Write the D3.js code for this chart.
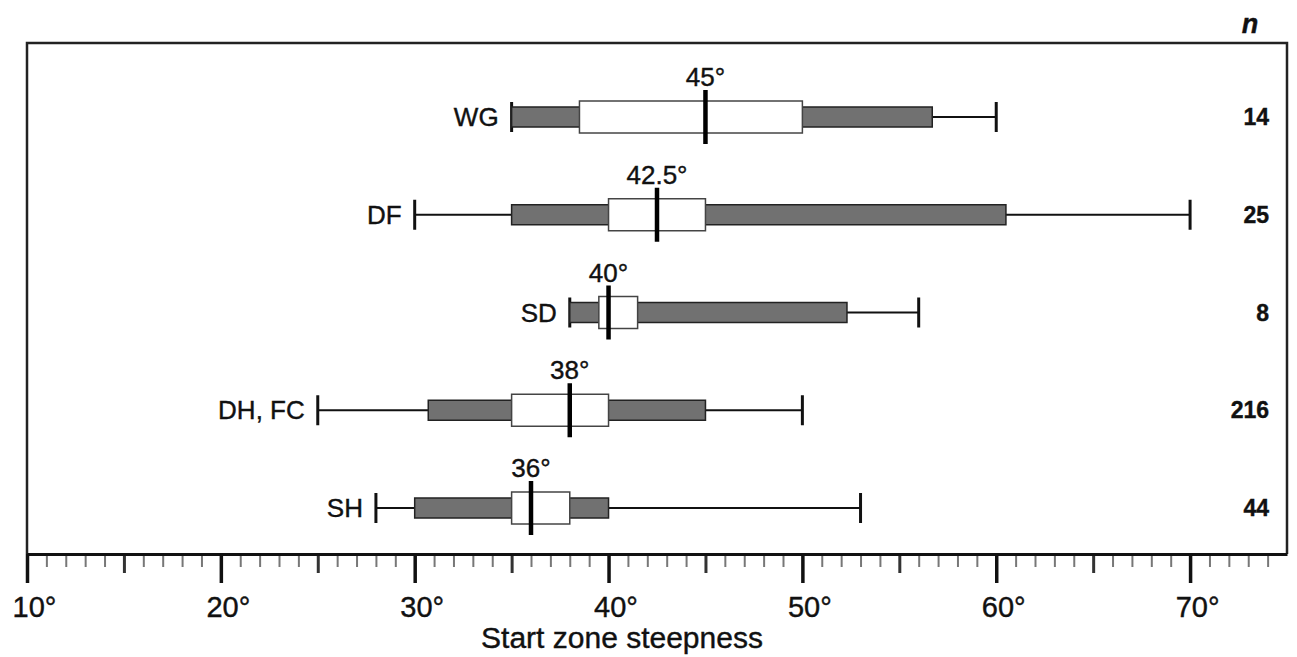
<!DOCTYPE html>
<html>
<head>
<meta charset="utf-8">
<script src="https://cdn.jsdelivr.net/npm/d3@7.9.0/dist/d3.min.js"></script>
<style>
  html, body { margin: 0; padding: 0; background: #fff; }
  svg { display: block; font-family: "Liberation Sans", Arial, Helvetica, sans-serif; }
  svg text { stroke: #111; stroke-width: 0.4px; }
</style>
</head>
<body>
<svg id="chart" width="1297" height="657"></svg>
<script>
// avalanche start zone categories, top to bottom
const categories = ["WG", "DF", "SD", "DH, FC", "SH"];
const whiskerLow = [35, 30, 38, 25, 28];
const outerLow = [35, 35, 38, 30.7, 30];
const innerLow = [38.5, 40, 39.5, 35, 35];
const medians = [45, 42.5, 40, 38, 36];
const innerHigh = [50, 45, 41.5, 40, 38];
const outerHigh = [56.7, 60.5, 52.3, 45, 40];
const whiskerHigh = [60, 70, 56, 50, 53];
const medianLabels = ["45°", "42.5°", "40°", "38°", "36°"];
const sampleSizes = ["14", "25", "8", "216", "44"];
const majorTicks = [10, 20, 30, 40, 50, 60, 70];
const majorTickLabels = ["10°", "20°", "30°", "40°", "50°", "60°", "70°"];
const xTitle = "Start zone steepness";

const rows = categories.map((c, i) => ({
  cat: c, wlo: whiskerLow[i], olo: outerLow[i], ilo: innerLow[i], med: medians[i],
  ihi: innerHigh[i], ohi: outerHigh[i], whi: whiskerHigh[i],
  medLabel: medianLabels[i], n: sampleSizes[i]
}));

const svg = d3.select("#chart");
const frameLeft = 27, frameRight = 1287, frameTop = 43, axisY = 554;

const x = d3.scaleLinear().domain([10, 75]).range([frameLeft, frameRight]);
const y = d3.scalePoint().domain(categories).range([117, 508]);

// frame
svg.append("path")
  .attr("d", `M${frameLeft},${axisY}V${frameTop}H${frameRight}V${axisY}`)
  .attr("fill", "none")
  .attr("stroke", "#222")
  .attr("stroke-width", 2.5);

// minor ticks (every degree)
const minorVals = d3.range(11, 75).filter(d => d % 5 !== 0);
svg.append("g")
  .attr("transform", `translate(0,${axisY})`)
  .call(d3.axisBottom(x).tickValues(minorVals).tickSize(13).tickFormat(""))
  .call(g => g.select(".domain").remove())
  .call(g => g.selectAll("line").attr("stroke", "#777").attr("stroke-width", 2));

// medium ticks (every 5)
svg.append("g")
  .attr("transform", `translate(0,${axisY})`)
  .call(d3.axisBottom(x).tickValues([15, 25, 35, 45, 55, 65]).tickSize(19).tickFormat(""))
  .call(g => g.select(".domain").remove())
  .call(g => g.selectAll("line").attr("stroke", "#333").attr("stroke-width", 3));

// major ticks with labels
const xAxis = svg.append("g")
  .attr("transform", `translate(0,${axisY})`)
  .call(d3.axisBottom(x).tickValues(majorTicks).tickSize(29).tickSizeOuter(0)
    .tickFormat((d, i) => majorTickLabels[i]));
xAxis.select(".domain").attr("stroke", "#111").attr("stroke-width", 3);
xAxis.selectAll(".tick line").attr("stroke", "#111").attr("stroke-width", 3.5);
xAxis.selectAll(".tick text")
  .attr("y", 63).attr("dy", 0).attr("dx", 7)
  .attr("fill", "#111")
  .style("font-size", "29px");

// axis title
svg.append("text")
  .attr("x", 622)
  .attr("y", 648)
  .attr("text-anchor", "middle")
  .attr("fill", "#111")
  .style("font-size", "30px")
  .text(xTitle);

// n header
svg.append("text")
  .attr("x", 1250)
  .attr("y", 33)
  .attr("text-anchor", "middle")
  .attr("fill", "#111")
  .style("font-size", "27px")
  .style("font-weight", "bold")
  .style("font-style", "italic")
  .text("n");

const row = svg.selectAll(".row")
  .data(rows)
  .enter()
  .append("g")
  .attr("class", "row")
  .attr("transform", d => `translate(0,${y(d.cat)})`);

// whisker line
row.append("line")
  .attr("x1", d => x(d.wlo)).attr("x2", d => x(d.whi))
  .attr("stroke", "#111").attr("stroke-width", 2.2);

// caps
row.selectAll(".cap")
  .data(d => [d.wlo, d.whi])
  .enter()
  .append("line")
  .attr("x1", v => x(v)).attr("x2", v => x(v))
  .attr("y1", -15).attr("y2", 15)
  .attr("stroke", "#111").attr("stroke-width", 3);

// grey bar
row.append("rect")
  .attr("x", d => x(d.olo))
  .attr("width", d => x(d.ohi) - x(d.olo))
  .attr("y", -10).attr("height", 20)
  .attr("fill", "#717171")
  .attr("stroke", "#222").attr("stroke-width", 1.5);

// white box
row.append("rect")
  .attr("x", d => x(d.ilo))
  .attr("width", d => x(d.ihi) - x(d.ilo))
  .attr("y", -16).attr("height", 32)
  .attr("fill", "#fff")
  .attr("stroke", "#444").attr("stroke-width", 1.5);

// median
row.append("line")
  .attr("x1", d => x(d.med)).attr("x2", d => x(d.med))
  .attr("y1", -27).attr("y2", 27)
  .attr("stroke", "#000").attr("stroke-width", 4.5);

// median label
row.append("text")
  .attr("x", d => x(d.med))
  .attr("y", -31)
  .attr("text-anchor", "middle")
  .attr("fill", "#111")
  .style("font-size", "26px")
  .text(d => d.medLabel);

// category label
row.append("text")
  .attr("x", d => x(d.wlo) - 13)
  .attr("dy", "0.35em")
  .attr("text-anchor", "end")
  .attr("fill", "#111")
  .style("font-size", "26px")
  .text(d => d.cat);

// sample size
row.append("text")
  .attr("x", 1269)
  .attr("dy", "0.35em")
  .attr("text-anchor", "end")
  .attr("fill", "#111")
  .style("font-size", "23px")
  .style("font-weight", "bold")
  .text(d => d.n);
</script>
</body>
</html>
